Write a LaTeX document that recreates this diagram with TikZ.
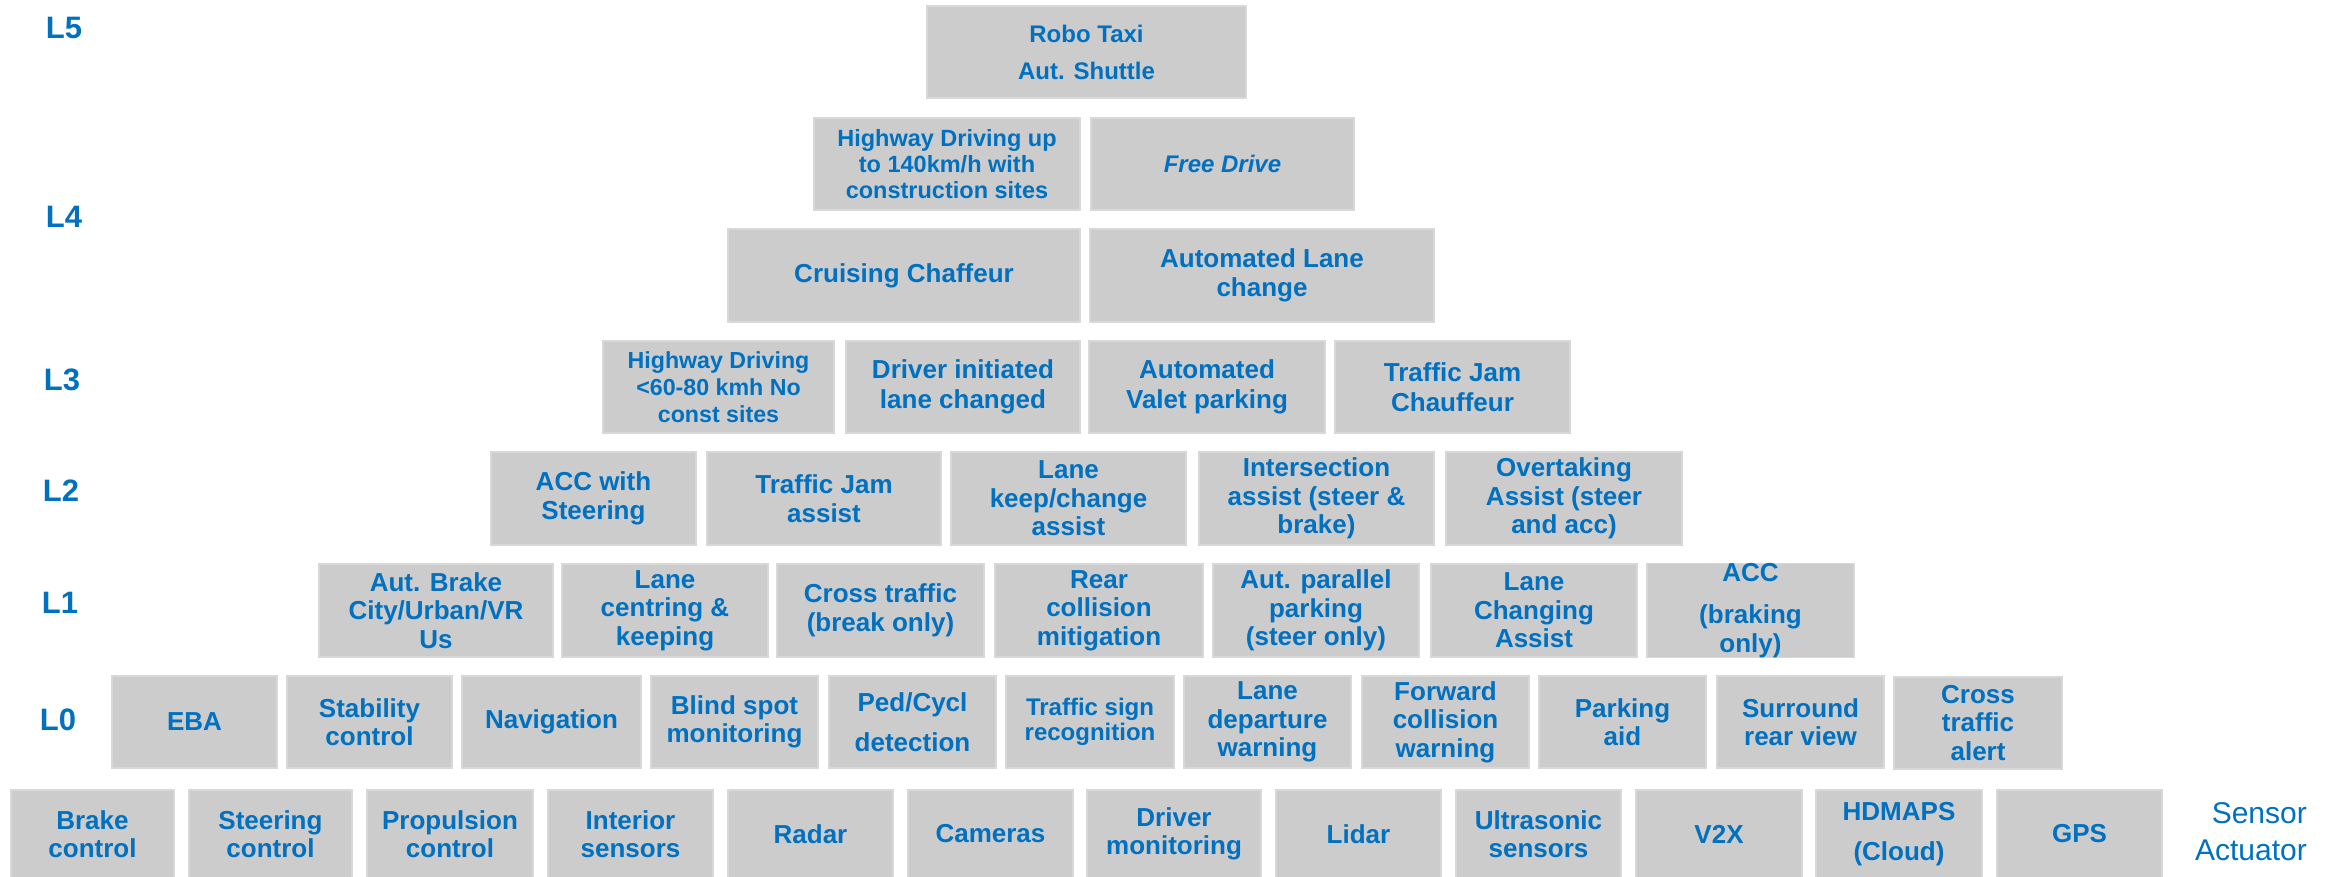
\documentclass[tikz,border=0pt]{standalone}
\usepackage{fontspec}
\setmainfont{Liberation Sans}
\definecolor{tblue}{RGB}{0,112,192}
\definecolor{boxgray}{RGB}{204,204,204}
\definecolor{boxedge}{RGB}{216,216,216}
\tikzset{
  featbox/.style={rectangle, fill=boxgray, draw=boxedge, line width=1.2pt, inner sep=0pt,
    align=center, text=tblue, font=\fontsize{26}{28.5}\selectfont\bfseries},
  small/.style={font=\fontsize{24}{26}\selectfont\bfseries},
  lvl/.style={text=tblue, font=\fontsize{31}{33}\selectfont\bfseries, inner sep=0pt},
  rowA/.style={minimum height=92pt},
  rowB/.style={minimum height=93pt},
  rowBot/.style={minimum height=88pt},
}
\begin{document}
\begin{tikzpicture}[x=1pt,y=-1pt]
\useasboundingbox (0,0) rectangle (2336,876);
% level labels
\node[lvl] (L5) at (64,28) {L5};
\node[lvl] (L4) at (64,217) {L4};
\node[lvl] (L3) at (62,380) {L3};
\node[lvl] (L2) at (61,491) {L2};
\node[lvl] (L1) at (60,603) {L1};
\node[lvl] (L0) at (58,720) {L0};
% L5
\node[featbox,rowA,minimum width=319pt,font=\fontsize{24}{37}\selectfont\bfseries] (robo) at (1086.5,52) {Robo Taxi\\Aut. Shuttle};
% L4
\node[featbox,rowA,minimum width=266pt,font=\fontsize{23.5}{26}\selectfont\bfseries] (hw140) at (947,164) {Highway Driving up\\to 140km/h with\\construction sites};
\node[featbox,rowA,minimum width=263pt,font=\fontsize{24}{26}\selectfont\bfseries\itshape] (free) at (1222.5,164) {Free Drive};
\node[featbox,rowB,minimum width=352pt] (cruise) at (904,275.5) {Cruising Chaffeur};
\node[featbox,rowB,minimum width=344pt] (autolane) at (1262,275.5) {Automated Lane\\change};
% L3
\node[featbox,rowA,minimum width=231pt,font=\fontsize{23.2}{26.7}\selectfont\bfseries] (hw60) at (718.5,387) {Highway Driving\\<60-80 kmh No\\const sites};
\node[featbox,rowA,minimum width=234pt,font=\fontsize{26}{30}\selectfont\bfseries] (drvinit) at (963,387) {Driver initiated\\lane changed};
\node[featbox,rowA,minimum width=236pt,font=\fontsize{26}{30}\selectfont\bfseries] (valet) at (1207,387) {Automated\\Valet parking};
\node[featbox,rowA,minimum width=235pt,font=\fontsize{26}{30}\selectfont\bfseries] (tjc) at (1452.5,387) {Traffic Jam\\Chauffeur};
% L2
\node[featbox,rowB,minimum width=205pt] (accst) at (593.5,498.5) {ACC with\\Steering};
\node[featbox,rowB,minimum width=234pt] (tja) at (824,498.5) {Traffic Jam\\assist};
\node[featbox,rowB,minimum width=235pt] (lkeep) at (1068.5,498.5) {Lane\\keep/change\\assist};
\node[featbox,rowB,minimum width=235pt] (inter) at (1316.5,498.5) {Intersection\\assist (steer \&\\brake)};
\node[featbox,rowB,minimum width=236pt] (overt) at (1564,498.5) {Overtaking\\Assist (steer\\and acc)};
% L1
\node[featbox,rowB,minimum width=234pt] (autbrake) at (436,610.5) {Aut. Brake\\City/Urban/VR\\Us};
\node[featbox,rowB,minimum width=206pt] (lcent) at (665,610.5) {Lane\\centring \&\\keeping};
\node[featbox,rowB,minimum width=207pt] (crossb) at (880.5,610.5) {Cross traffic\\(break only)};
\node[featbox,rowB,minimum width=208pt] (rearc) at (1099,610.5) {Rear\\collision\\mitigation};
\node[featbox,rowB,minimum width=206pt] (parpark) at (1316,610.5) {Aut. parallel\\parking\\(steer only)};
\node[featbox,rowB,minimum width=206pt] (lchg) at (1534,610.5) {Lane\\Changing\\Assist};
\node[featbox,rowB,minimum width=207pt] (accbr) at (1750.5,610.5) {ACC\\[14pt](braking\\only)};
% L0
\node[featbox,rowA,minimum width=165pt] (eba) at (194.5,722) {EBA};
\node[featbox,rowA,minimum width=165pt] (stab) at (369.5,722) {Stability\\control};
\node[featbox,rowA,minimum width=179pt] (navi) at (551.5,722) {Navigation};
\node[featbox,rowA,minimum width=167pt] (blind) at (734.5,722) {Blind spot\\monitoring};
\node[featbox,rowA,minimum width=167pt] (ped) at (912.5,722) {Ped/Cycl\\[11pt]detection};
\node[featbox,rowA,minimum width=168pt,font=\fontsize{24}{25}\selectfont\bfseries] (tsign) at (1090,722) {Traffic sign\\recognition};
\node[featbox,rowA,minimum width=167pt] (ldep) at (1267.5,722) {Lane\\departure\\warning};
\node[featbox,rowA,minimum width=167pt] (fwd) at (1445.5,722) {Forward\\collision\\warning};
\node[featbox,rowA,minimum width=167pt] (park) at (1622.5,722) {Parking\\aid};
\node[featbox,rowA,minimum width=167pt] (surr) at (1800.5,722) {Surround\\rear view};
\node[featbox,rowA,minimum width=168pt] (cta) at (1978,723) {Cross\\traffic\\alert};
% sensors / actuators
\node[featbox,rowBot,minimum width=163pt] (brake) at (92.5,834) {Brake\\control};
\node[featbox,rowBot,minimum width=163pt] (steer) at (270.5,834) {Steering\\control};
\node[featbox,rowBot,minimum width=166pt] (prop) at (450,834) {Propulsion\\control};
\node[featbox,rowBot,minimum width=165pt] (inter2) at (630.5,834) {Interior\\sensors};
\node[featbox,rowBot,minimum width=165pt] (radar) at (810.5,834) {Radar};
\node[featbox,rowBot,minimum width=165pt] (cam) at (990.5,834) {Cameras};
\node[featbox,rowBot,minimum width=174pt] (drvmon) at (1174,834) {Driver\\monitoring};
\node[featbox,rowBot,minimum width=165pt] (lidar) at (1358.5,834) {Lidar};
\node[featbox,rowBot,minimum width=165pt] (ultra) at (1538.5,834) {Ultrasonic\\sensors};
\node[featbox,rowBot,minimum width=166pt] (v2x) at (1719,834) {V2X};
\node[featbox,rowBot,minimum width=166pt] (hdmaps) at (1899,834) {HDMAPS\\[11pt](Cloud)};
\node[featbox,rowBot,minimum width=165pt] (gps) at (2079.5,834) {GPS};
\node[text=tblue, font=\fontsize{30}{37}\selectfont, align=right, inner sep=0pt, anchor=east] (sa) at (2307,832) {Sensor\\Actuator};
\end{tikzpicture}
\end{document}
